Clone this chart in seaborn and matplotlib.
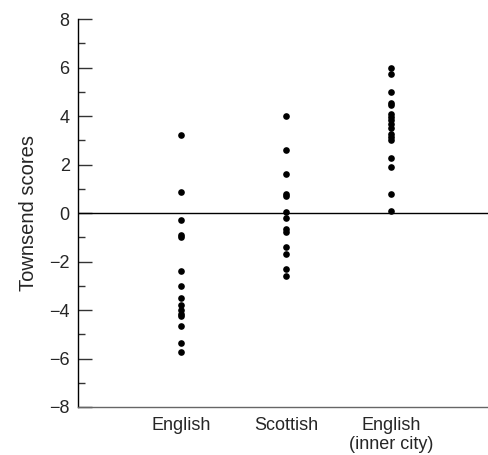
import matplotlib
matplotlib.use("Agg")
import matplotlib.pyplot as plt
from matplotlib.ticker import MultipleLocator
import seaborn as sns
import pandas as pd

categories = ["English", "Scottish", "English\n(inner city)"]

english = [3.2, 0.85, -0.3, -0.9, -1.0, -2.4, -3.0, -3.5, -3.8, -4.0, -4.15,
           -4.25, -4.65, -5.35, -5.75]
scottish = [4.0, 2.6, 1.6, 0.77, 0.69, 0.04, -0.2, -0.67, -0.8, -1.4, -1.7,
            -2.3, -2.6]
inner_city = [6.0, 5.75, 5.0, 4.55, 4.45, 4.1, 3.95, 3.85, 3.68, 3.52, 3.25,
              3.15, 3.0, 2.25, 1.9, 0.8, 0.1]

df = pd.DataFrame({
    "group": [categories[0]] * len(english)
             + [categories[1]] * len(scottish)
             + [categories[2]] * len(inner_city),
    "score": english + scottish + inner_city,
})

sns.set_style("white")
plt.rcParams["font.family"] = ["Liberation Sans", "DejaVu Sans"]

fig = plt.figure(figsize=(4.89, 4.55), dpi=100)
ax = fig.add_axes([0.1595, 0.1055, 0.8405, 0.8527])

sns.stripplot(data=df, x="group", y="score", order=categories, jitter=False,
              color="black", size=4.8, linewidth=0, ax=ax)

ax.axhline(0, color="black", lw=1.0, zorder=1)

ax.set_xlim(-0.981, 2.933)
ax.set_ylim(-8, 8)
ax.yaxis.set_major_locator(MultipleLocator(2))
ax.yaxis.set_minor_locator(MultipleLocator(1))
ax.set_yticklabels([f"{int(v)}".replace("-", "\u2212") for v in ax.get_yticks()])
ax.tick_params(axis="y", which="major", direction="in", length=10, width=1,
               color="#333333", labelsize=13, pad=6, left=True)
ax.tick_params(axis="y", which="minor", direction="in", length=5, width=1,
               color="#333333", left=True)
ax.tick_params(axis="x", length=0, labelsize=13, pad=7)

ax.set_xlabel("")
ax.set_ylabel("Townsend scores", fontsize=14.5, labelpad=8)

for side in ("top", "right"):
    ax.spines[side].set_visible(False)
ax.spines["left"].set_color("black")
ax.spines["left"].set_linewidth(1.0)
ax.spines["bottom"].set_color("#666666")
ax.spines["bottom"].set_linewidth(1.0)

fig.savefig("out.png", dpi=100)
